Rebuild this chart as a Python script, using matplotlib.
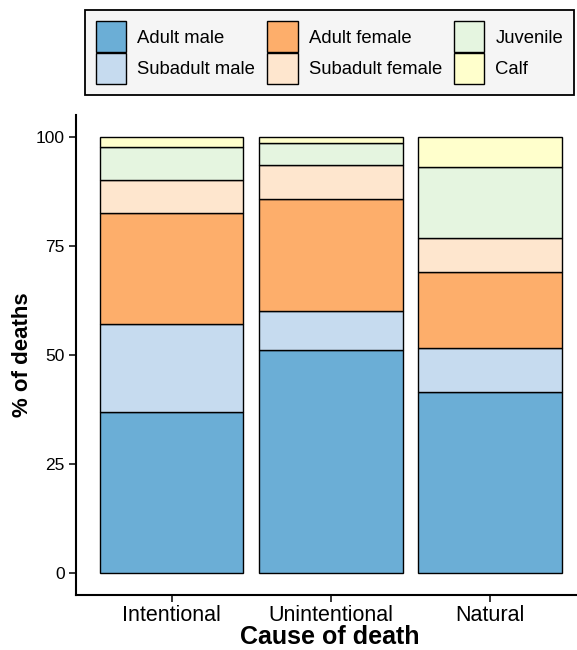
import numpy as np
import matplotlib
matplotlib.use("Agg")
import matplotlib.pyplot as plt

plt.rcParams["font.family"] = ["Liberation Sans", "DejaVu Sans"]

causes = ["Intentional", "Unintentional", "Natural"]
classes = ["Adult male", "Subadult male", "Adult female",
           "Subadult female", "Juvenile", "Calf"]
colors = ["#6baed6", "#c6dbef", "#fdae6b", "#fee6ce", "#e5f5e0", "#ffffcc"]

# % of deaths per age/sex class (bottom to top)
adult_male      = [36.9, 51.2, 41.4]
subadult_male   = [20.1,  9.0, 10.3]
adult_female    = [25.5, 25.6, 17.3]
subadult_female = [ 7.6,  7.8,  7.8]
juvenile        = [ 7.7,  5.1, 16.3]
calf            = [ 2.2,  1.3,  6.9]

series = [adult_male, subadult_male, adult_female,
          subadult_female, juvenile, calf]

fig = plt.figure(figsize=(5.77, 6.5), dpi=100)
ax = fig.add_axes([0.1317, 0.0849, 0.8834, 0.7379])

x = np.arange(len(causes)) + 1
bottom = np.zeros(len(causes))
handles = []
for name, vals, col in zip(classes, series, colors):
    b = ax.bar(x, vals, width=0.9, bottom=bottom, color=col,
               edgecolor="black", linewidth=1.0, label=name)
    handles.append(b)
    bottom += np.array(vals)

ax.set_xlim(0.4, 3.6)
ax.set_ylim(-5, 105)
ax.set_yticks([0, 25, 50, 75, 100])
ax.set_xticks(x)
ax.set_xticklabels(causes, fontsize=15.5)
ax.tick_params(axis="y", labelsize=12.5, length=5, width=1.1, pad=3)
ax.tick_params(axis="x", length=5, width=1.1, pad=2.5)
for s in ["top", "right"]:
    ax.spines[s].set_visible(False)
for s in ["left", "bottom"]:
    ax.spines[s].set_linewidth(1.5)

ax.set_xlabel("Cause of death", fontsize=18, fontweight="bold", va="bottom")
ax.xaxis.set_label_coords(0.498, (1.5 / 650 - 0.0849) / 0.7379)
ax.set_ylabel("% of deaths", fontsize=16, fontweight="bold", labelpad=2)

leg = fig.legend(handles=handles, labels=classes, ncol=3,
                 loc="upper center", bbox_to_anchor=(329.5 / 577, 1 - 10 / 650),
                 borderaxespad=0,
                 fontsize=13.3, handlelength=1.64, handleheight=2.18,
                 labelspacing=0.05, handletextpad=0.6, columnspacing=0.65,
                 borderpad=0.62, fancybox=False, framealpha=1)
leg.get_frame().set_facecolor("#f5f5f5")
leg.get_frame().set_edgecolor("black")
leg.get_frame().set_linewidth(1.3)

fig.savefig("out.png", dpi=100)
